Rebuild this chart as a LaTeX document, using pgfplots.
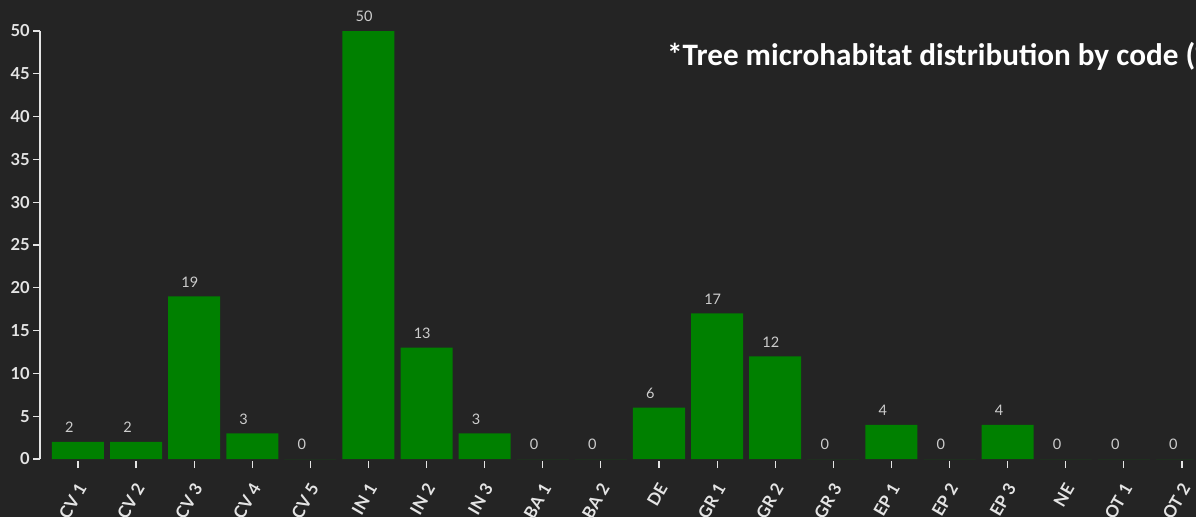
\documentclass[border=0pt]{standalone}
\usepackage{pgfplots}
\pgfplotsset{compat=1.18}
\usepackage{fontspec}
\setmainfont{Lato}
\newfontfamily\titlefont{Carlito}
\definecolor{bg}{RGB}{36,36,36}
\definecolor{bargreen}{RGB}{0,128,0}
\definecolor{valgray}{RGB}{205,205,205}
\definecolor{axwhite}{RGB}{228,228,228}
\begin{document}
\begin{tikzpicture}
\fill[bg] (0,0) rectangle (1196pt,517pt);
\begin{axis}[
  at={(40pt,58pt)}, anchor=south west,
  scale only axis, width=1153.5pt, height=428pt,
  xmin=-0.654, xmax=19.2, ymin=0, ymax=50,
  axis y line*=left, axis x line*=bottom,
  x axis line style={draw=none},
  y axis line style={axwhite, line width=1.2pt, -},
  ytick={0,5,...,50},
  xtick={0,...,19},
  xticklabels={CV 1,CV 2,CV 3,CV 4,CV 5,IN 1,IN 2,IN 3,BA 1,BA 2,DE,GR 1,GR 2,GR 3,EP 1,EP 2,EP 3,NE,OT 1,OT 2},
  tick align=outside, major tick length=7pt,
  tick style={axwhite, line width=1.2pt},
  xtick style={yshift=-2pt},
  /pgf/number format/assume math mode=true,
  yticklabel style={inner sep=0pt, xshift=-3pt, text=axwhite, font=\bfseries\fontsize{16.5}{16.5}\selectfont},
  xticklabel style={inner sep=0pt, yshift=-19pt, xshift=4pt, rotate=60, anchor=east, text=axwhite, font=\bfseries\fontsize{17}{17}\selectfont},
  ybar, bar width=52pt,
  nodes near coords,
  every node near coord/.append style={anchor=south west, inner sep=0pt, xshift=-13pt, yshift=9pt, text=valgray, font=\fontsize{14.5}{14.5}\selectfont},
]
\addplot[fill=bargreen, draw=none] coordinates {
(0,2) (1,2) (2,19) (3,3) (4,0) (5,50) (6,13) (7,3) (8,0) (9,0)
(10,6) (11,17) (12,12) (13,0) (14,4) (15,0) (16,4) (17,0) (18,0) (19,0)};
\end{axis}
\node[anchor=base west, text=white, inner sep=0pt, font=\titlefont\bfseries\fontsize{31.2}{34}\selectfont] at (667pt,451pt) {*Tree microhabitat distribution by code (\%)};
\pgfresetboundingbox
\useasboundingbox (0,0) rectangle (1196pt,517pt);
\end{tikzpicture}
\end{document}
